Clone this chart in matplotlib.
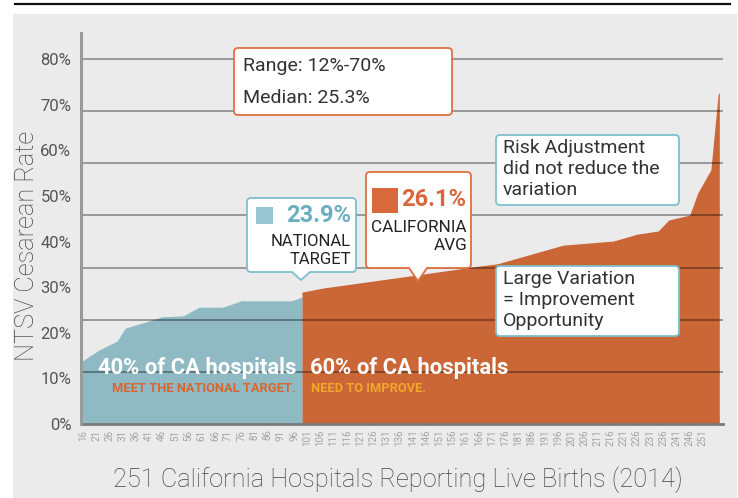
import numpy as np
import matplotlib.pyplot as plt
from matplotlib import transforms
from matplotlib.patches import FancyBboxPatch, Rectangle, Polygon
from matplotlib.lines import Line2D

plt.rcParams['font.family'] = ['Roboto', 'DejaVu Sans']

# hospitals ranked by NTSV cesarean rate (rank, rate %)
blue_rank = [15.2, 22, 29, 32, 40, 46, 54, 60, 69, 76, 95, 99]
blue_rate = [13.6, 16.2, 18.2, 21.0, 22.4, 23.5, 23.7, 25.6, 25.6, 27.0, 27.0, 27.8]
orange_rank = [99, 107, 143, 166, 173, 198, 217, 226, 234, 238, 246, 249, 254, 256.8, 257.2]
orange_rate = [28.9, 29.8, 32.7, 34.6, 35.1, 39.2, 40.1, 41.6, 42.3, 44.7, 45.8, 50.6, 55.7, 72.5, 72.5]

xtick_vals = list(range(16, 252, 5))
ytick_vals = list(range(0, 81, 10))
grid_vals = [80 / 7 * k for k in range(1, 8)]

W, H = 738, 498
fig = plt.figure(figsize=(W / 100, H / 100), dpi=100)
fig.patch.set_facecolor('white')
# pixel coords (origin top-left) -> figure
pix = transforms.Affine2D().scale(1 / W, -1 / H).translate(0, 1) + fig.transFigure

fig.add_artist(Rectangle((13, 14), 724, 490, transform=pix, facecolor='#ebebeb',
                         edgecolor='none', zorder=-1))
fig.add_artist(Line2D([15, 730], [4, 4], transform=pix, color='#111111', lw=1.6))

ax = fig.add_axes([81 / W, 74 / H, 642 / W, 391 / H])
ax.set_facecolor('none')
ax.set_xlim(15.24, 258.6)
ax.set_ylim(0, 85.7)

ax.fill_between(blue_rank, blue_rate, 0, color='#8fbac4', lw=0, zorder=1)
ax.fill_between(orange_rank, orange_rate, 0, color='#cb6637', lw=0, zorder=1)
for g in grid_vals:
    ax.axhline(g, color='#000000', alpha=0.45, lw=1.1, zorder=2)

for s in ['top', 'right']:
    ax.spines[s].set_visible(False)
ax.spines['left'].set_color('#9a9a9a')
ax.spines['left'].set_linewidth(2.2)
ax.spines['bottom'].set_color('#7a7a7a')
ax.spines['bottom'].set_linewidth(2)
ax.spines['left'].set_zorder(3)

ax.set_yticks(ytick_vals, [f'{v}%' for v in ytick_vals])
ax.set_xticks(xtick_vals, [str(v) for v in xtick_vals], rotation=90)
ax.tick_params(axis='y', length=0, pad=7, labelsize=12, labelcolor='#555555')
ax.tick_params(axis='x', length=0, pad=4, labelsize=7, labelcolor='#a3a3a3')

fig.text(27, 246, 'NTSV Cesarean Rate', transform=pix, rotation=90, ha='center',
         va='center', fontsize=18.3, color='#444444', fontweight='light')
fig.text(398, 480, '251 California Hospitals Reporting Live Births (2014)', transform=pix,
         ha='center', va='center', fontsize=18.3, color='#444444', fontweight='light')


def box(x0, y0, x1, y1, edge, tip=None):
    fig.add_artist(FancyBboxPatch((x0, y0), x1 - x0, y1 - y0, transform=pix,
                                  boxstyle='round,pad=0,rounding_size=4',
                                  facecolor='white', edgecolor=edge, lw=1.3, zorder=5))
    if tip is not None:
        tx, ty = tip
        fig.add_artist(Polygon([(tx - 9, y1 - 2), (tx - 9, y1), (tx, ty), (tx + 9, y1),
                                (tx + 9, y1 - 2)], closed=True, transform=pix,
                               facecolor='white', edgecolor='none', zorder=6))
        fig.add_artist(Line2D([tx - 9, tx, tx + 9], [y1, ty, y1], transform=pix,
                              color=edge, lw=1.3, zorder=6))


def txt(x, y, s, **kw):
    kw.setdefault('va', 'center')
    kw.setdefault('zorder', 7)
    fig.text(x, y, s, transform=pix, **kw)


blue_edge = '#7dbfcf'
orange_edge = '#e07040'

# range / median
box(234, 48, 452, 115, orange_edge)
txt(243, 66, 'Range: 12%-70%', fontsize=14, color='#333333')
txt(243, 98, 'Median: 25.3%', fontsize=14, color='#333333')

# national target callout
box(247, 198, 356, 272, blue_edge, tip=(301, 280))
fig.add_artist(Rectangle((256, 207), 17, 17, transform=pix, facecolor='#9ac6d2',
                         edgecolor='none', zorder=7))
txt(351, 216, '23.9%', ha='right', fontsize=17, fontweight='bold', color='#6aafbf')
txt(351, 242, 'NATIONAL', ha='right', fontsize=12, color='#222222')
txt(351, 259, 'TARGET', ha='right', fontsize=12, color='#222222')

# california average callout
box(366, 172, 471, 268, orange_edge, tip=(418, 281))
fig.add_artist(Rectangle((372, 188), 26, 25, transform=pix, facecolor='#d9683a',
                         edgecolor='none', zorder=7))
txt(466, 199, '26.1%', ha='right', fontsize=17, fontweight='bold', color='#d9673a')
txt(467, 228, 'CALIFORNIA', ha='right', fontsize=12.3, color='#222222')
txt(467, 246, 'AVG', ha='right', fontsize=12.3, color='#222222')

# notes
box(496, 135, 679, 205, blue_edge)
for i, line in enumerate(['Risk Adjustment', 'did not reduce the', 'variation']):
    txt(503, 148 + 21 * i, line, fontsize=14, color='#333333')
box(496, 266, 679, 336, blue_edge)
for i, line in enumerate(['Large Variation', '= Improvement', 'Opportunity']):
    txt(503, 279 + 21 * i, line, fontsize=14, color='#333333')

# inside-area labels
txt(296, 368, '40% of CA hospitals', ha='right', fontsize=15.8, fontweight='bold', color='white')
txt(296, 389, 'MEET THE NATIONAL TARGET.', ha='right', fontsize=9.3, fontweight='bold',
    color='#d9652e')
txt(310, 368, '60% of CA hospitals', ha='left', fontsize=15.8, fontweight='bold', color='white')
txt(311, 389, 'NEED TO IMPROVE.', ha='left', fontsize=9.3, fontweight='bold',
    color='#f2a72a')

fig.savefig('out.png', dpi=100)
